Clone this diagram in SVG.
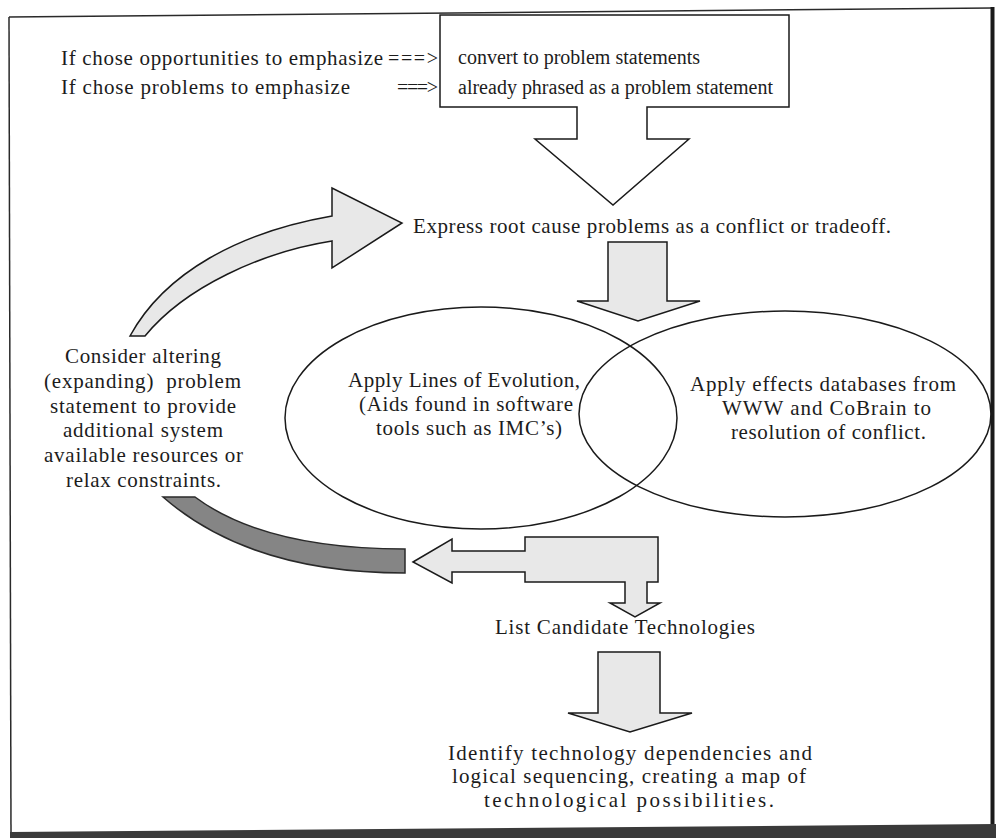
<svg xmlns="http://www.w3.org/2000/svg" width="996" height="838" viewBox="0 0 996 838">
  <style>
    text { font-family: "Liberation Serif", "Times New Roman", serif; font-size: 21px; fill: #1c1c1c; }
    .plain { font-size: 20px; }
    .outline { fill: #ffffff; stroke: #1a1a1a; stroke-width: 1.5; stroke-linejoin: miter; }
    .light { fill: #e8e8e8; stroke: #1a1a1a; stroke-width: 1.5; stroke-linejoin: miter; }
    .dark { fill: #858585; stroke: #2a2a2a; stroke-width: 1.5; }
    .ellipse { fill: none; stroke: #1a1a1a; stroke-width: 1.5; }
  </style>

  <!-- page background and frame -->
  <rect width="996" height="838" fill="#ffffff"/>
  <g id="frame">
    <path d="M9,17 L992,8" fill="none" stroke="#2a2a2a" stroke-width="1.5"/>
    <path d="M9,17 L11,834" fill="none" stroke="#2a2a2a" stroke-width="1.5"/>
    <path d="M992.5,7 L992.5,830" fill="none" stroke="#1a1a1a" stroke-width="4"/>
    <polygon points="10,832 996,824 996,838 10,838" fill="#3a3a3a"/>
  </g>

  <!-- top statement box, its outline runs into the downward arrow -->
  <g id="problem-box">
    <path class="outline" d="M440,15 L789,15 L789,107 L647,107 L647,139 L689,139 L613,205 L535,139 L577,139 L577,107 L440,107 Z"/>
    <text class="plain" x="458" y="64" textLength="242" lengthAdjust="spacing">convert to problem statements</text>
    <text class="plain" x="458" y="94" textLength="315" lengthAdjust="spacing">already phrased as a problem statement</text>
  </g>

  <g id="choice-labels">
    <text x="61" y="65" textLength="322" lengthAdjust="spacing">If chose opportunities to emphasize</text>
    <text class="plain" x="388" y="65" textLength="50" lengthAdjust="spacing">===&gt;</text>
    <text x="61" y="94" textLength="289" lengthAdjust="spacing">If chose problems to emphasize</text>
    <text class="plain" x="397" y="94" textLength="41" lengthAdjust="spacing">===&gt;</text>
  </g>

  <g id="express-conflict">
    <text x="413" y="233" textLength="478" lengthAdjust="spacing">Express root cause problems as a conflict or tradeoff.</text>
  </g>

  <g id="consider-altering">
    <text x="65" y="363" textLength="156" lengthAdjust="spacing">Consider altering</text>
    <text x="44" y="388" textLength="197" lengthAdjust="spacing" xml:space="preserve">(expanding)  problem</text>
    <text x="50" y="413" textLength="186" lengthAdjust="spacing">statement to provide</text>
    <text x="63" y="437" textLength="160" lengthAdjust="spacing">additional system</text>
    <text x="44" y="462" textLength="199" lengthAdjust="spacing">available resources or</text>
    <text x="66" y="487" textLength="155" lengthAdjust="spacing">relax constraints.</text>
  </g>

  <g id="lines-of-evolution">
    <ellipse class="ellipse" cx="481" cy="418" rx="196" ry="111"/>
    <text x="348" y="387" textLength="232" lengthAdjust="spacing">Apply Lines of Evolution,</text>
    <text x="359" y="411" textLength="214" lengthAdjust="spacing">(Aids found in software</text>
    <text x="376" y="435" textLength="186" lengthAdjust="spacing">tools such as IMC’s)</text>
  </g>

  <g id="effects-databases">
    <ellipse class="ellipse" cx="785" cy="414" rx="206" ry="103"/>
    <text x="690" y="391" textLength="266" lengthAdjust="spacing">Apply effects databases from</text>
    <text x="722" y="415" textLength="209" lengthAdjust="spacing">WWW and CoBrain to</text>
    <text x="731" y="439" textLength="195" lengthAdjust="spacing">resolution of conflict.</text>
  </g>

  <g id="candidate-technologies">
    <text x="495" y="634" textLength="260" lengthAdjust="spacing">List Candidate Technologies</text>
  </g>

  <g id="technology-map">
    <text x="448" y="760" textLength="364" lengthAdjust="spacing">Identify technology dependencies and</text>
    <text x="452" y="783" textLength="354" lengthAdjust="spacing">logical sequencing, creating a map of</text>
    <text x="484" y="807" textLength="290" lengthAdjust="spacing">technological possibilities.</text>
  </g>

  <!-- block arrows between the steps -->
  <g id="connectors">
    <!-- feedback loop: back up to the conflict statement -->
    <path class="light" d="M130,336 C165,272 240,232 332,216 L332,188 L402,223 L332,268 L332,241 C262,252 185,287 145,336 Z"/>
    <!-- feedback loop: tail sweeping back from the results -->
    <path class="dark" d="M163,497 Q250,573 405,573 L405,549 Q265,549 195,497 Z"/>
    <!-- conflict statement down into the two methods -->
    <path class="light" d="M608,242 L667,242 L667,301 L700,301 L638,321 L577,301 L608,301 Z"/>
    <!-- results: back to the loop, and down to the candidate list -->
    <path class="light" d="M413,562 L452,539 L452,551 L525,551 L525,537 L658,537 L658,582 L647,582 L647,603 L660,603 L635,617 L610,603 L625,603 L625,582 L525,582 L525,572 L452,572 L452,583 Z"/>
    <!-- candidate list down to the technology map -->
    <path class="light" d="M598,652 L660,652 L660,713 L692,713 L630,732 L568,713 L598,713 Z"/>
  </g>
</svg>
